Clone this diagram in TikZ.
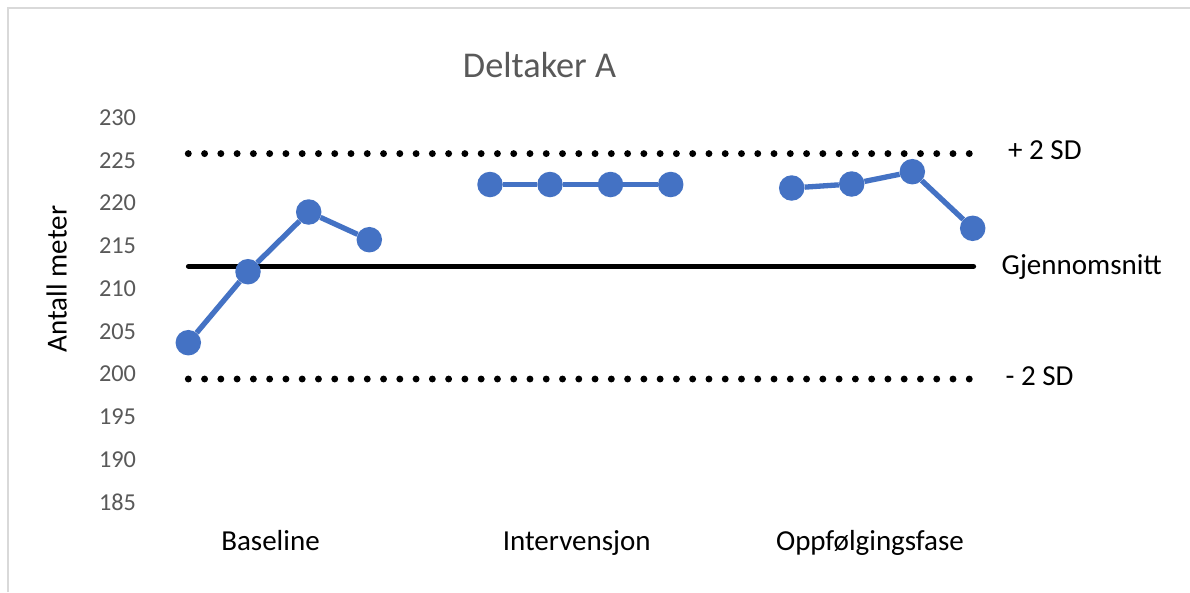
\documentclass[tikz,border=0pt]{standalone}
\usepackage{fontspec}
\setmainfont{Carlito}
\definecolor{seriesblue}{HTML}{4472C4}
\definecolor{axisgray}{HTML}{595959}
\definecolor{framegray}{HTML}{D9D9D9}
\begin{document}
\begin{tikzpicture}[x=1pt,y=-1pt,
  tick/.style={font=\fontsize{24.3}{24}\selectfont, text=axisgray, inner sep=0pt, anchor=center},
  lbl/.style={font=\fontsize{29}{29}\selectfont, inner sep=0pt},
  marker/.style={circle, fill=seriesblue, minimum size=25.5pt, inner sep=0pt},
  series/.style={seriesblue, line width=5.3pt},
  sdline/.style={line width=6.9pt, line cap=round, dash pattern=on 0pt off 16.27pt},
  meanline/.style={line width=5.2pt, line cap=round}]
\useasboundingbox[fill=white] (0,0) rectangle (1190,592);
% chart frame
\draw[framegray, line width=1.3pt] (8,592) -- (8,8) -- (1190,8);

% title
\node[anchor=base, inner sep=0pt, font=\fontsize{36.3}{36}\selectfont, text=axisgray] (title) at (539.5,77.3) {Deltaker A};

% vertical axis
\foreach \v [count=\i from 0] in {230,225,...,185}
  \node[tick] (tick\v) at (117.5,117.5+\i*42.78) {\v};
\node[lbl, rotate=90, anchor=center] (ylabel) at (56.7,279) {Antall meter};

% phase labels
\node[lbl, anchor=base] (phaseA) at (270.5,550.5) {Baseline};
\node[lbl, anchor=base] (phaseB) at (576.7,550.5) {Intervensjon};
\node[lbl, anchor=base] (phaseC) at (870,550.5) {Oppfølgingsfase};

% reference lines
\coordinate (sdhiL) at (188.3,153.6);
\coordinate (sdhiR) at (969.8,153.6);
\coordinate (meanL) at (188.5,266.3);
\coordinate (meanR) at (973.5,266.3);
\coordinate (sdloL) at (188.3,379);
\coordinate (sdloR) at (969.8,379);
\draw[sdline] (sdhiL) -- (sdhiR);
\draw[meanline] (meanL) -- (meanR);
\draw[sdline] (sdloL) -- (sdloR);

\node[lbl, anchor=base west] (sdhi) at (1008,159) {+ 2 SD};
\node[lbl, anchor=base west] (mean) at (1001.5,274) {Gjennomsnitt};
\node[lbl, anchor=base west] (sdlo) at (1005.5,385) {- 2 SD};

% measurements
\node[marker] (b1) at (188.3,342.7) {};
\node[marker] (b2) at (248,271.7) {};
\node[marker] (b3) at (308.7,212) {};
\node[marker] (b4) at (369.3,239.7) {};
\node[marker] (i1) at (490,184.5) {};
\node[marker] (i2) at (550,184.5) {};
\node[marker] (i3) at (610.5,184.5) {};
\node[marker] (i4) at (670.7,184.5) {};
\node[marker] (f1) at (791.7,188) {};
\node[marker] (f2) at (851.7,184) {};
\node[marker] (f3) at (912.3,171.7) {};
\node[marker] (f4) at (972.7,228.3) {};
\draw[series] (b1) -- (b2) -- (b3) -- (b4);
\draw[series] (i1) -- (i2) -- (i3) -- (i4);
\draw[series] (f1) -- (f2) -- (f3) -- (f4);
\end{tikzpicture}
\end{document}
